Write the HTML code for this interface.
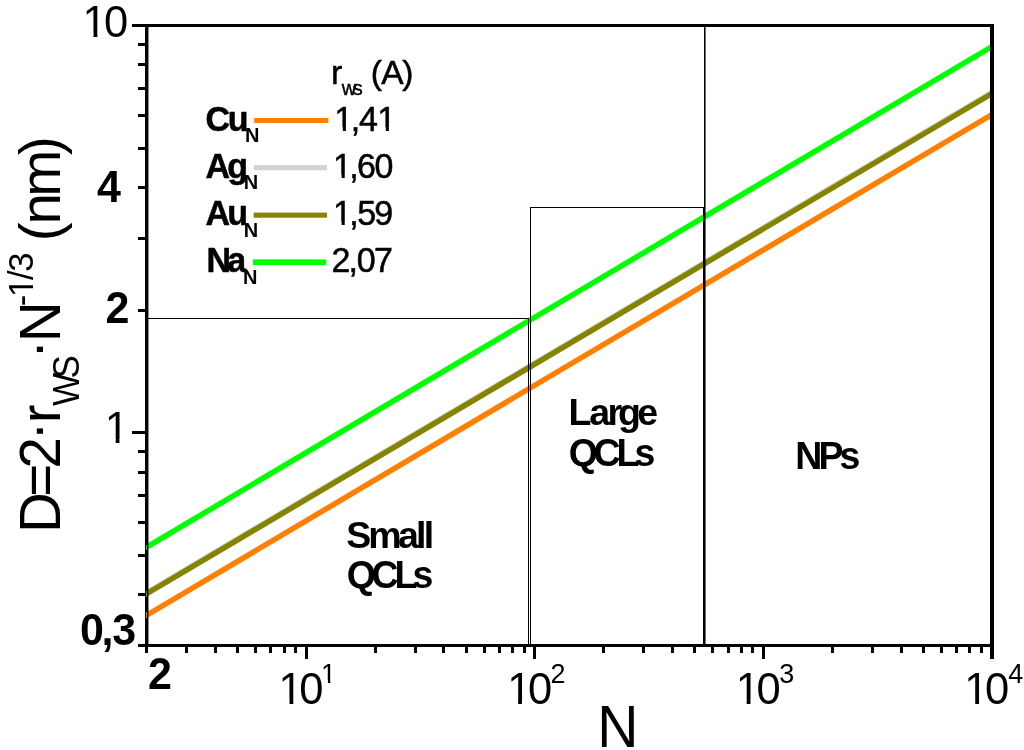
<!DOCTYPE html>
<html lang="en"><head><meta charset="utf-8"><title>chart</title>
<style>html,body{margin:0;padding:0;background:#fff;}body{width:1024px;height:750px;overflow:hidden;}svg{display:block;will-change:transform;}text{font-family:"Liberation Sans",sans-serif;fill:#000;}</style></head><body>
<svg width="1024" height="750" viewBox="0 0 1024 750">
<rect x="0" y="0" width="1024" height="750" fill="#fff"/>
<defs><clipPath id="one"><rect x="-5" y="-100" width="70" height="90.5"/><rect x="25.15" y="-10" width="8.84" height="10.5"/></clipPath></defs>
<clipPath id="c"><rect x="146" y="20" width="844.5" height="630"/></clipPath>
<g clip-path="url(#c)" fill="none" stroke-width="5.5">
<line x1="140" y1="619.14" x2="1000" y2="109.77" stroke="#ff8000"/>
<line x1="140" y1="596.58" x2="1000" y2="87.72" stroke="#d3d3d3"/>
<line x1="140" y1="597.69" x2="1000" y2="88.83" stroke="#848400"/>
<line x1="140" y1="551.05" x2="1000" y2="41.78" stroke="#00ff00"/>
</g>
<g fill="#000" shape-rendering="crispEdges">
<rect x="148" y="318" width="381" height="1"/><rect x="528" y="318" width="1" height="327"/>
<rect x="530" y="207" width="1" height="438"/><rect x="530" y="207" width="174" height="1"/><rect x="703" y="207" width="1" height="438"/>
<rect x="704" y="26" width="1.55" height="619" shape-rendering="auto"/>
</g>
<g fill="#000" shape-rendering="crispEdges">
<rect x="145" y="24" width="848.8" height="3"/>
<rect x="145" y="644" width="848.8" height="3"/>
<rect x="145" y="24" width="3.45" height="623" shape-rendering="auto"/>
<rect x="990.3" y="24" width="3.5" height="635"/>
<rect x="132" y="24.0" width="14.0" height="3"/>
<rect x="138" y="43.0" width="8.0" height="3"/>
<rect x="138" y="63.0" width="8.0" height="3"/>
<rect x="138" y="87.0" width="8.0" height="3"/>
<rect x="138" y="114.0" width="8.0" height="3"/>
<rect x="138" y="147.0" width="8.0" height="3"/>
<rect x="138" y="186.0" width="8.0" height="3"/>
<rect x="138" y="237.0" width="8.0" height="3"/>
<rect x="138" y="309.0" width="8.0" height="3"/>
<rect x="132" y="431.0" width="14.0" height="3"/>
<rect x="138" y="450.0" width="8.0" height="3"/>
<rect x="138" y="471.0" width="8.0" height="3"/>
<rect x="138" y="494.0" width="8.0" height="3"/>
<rect x="138" y="521.0" width="8.0" height="3"/>
<rect x="138" y="554.0" width="8.0" height="3"/>
<rect x="138" y="593.0" width="8.0" height="3"/>
<rect x="138" y="644.0" width="8.0" height="3"/>
<rect x="145.0" y="645" width="3" height="7.7"/>
<rect x="185.0" y="645" width="3" height="7.7"/>
<rect x="214.0" y="645" width="3" height="7.7"/>
<rect x="236.0" y="645" width="3" height="7.7"/>
<rect x="254.0" y="645" width="3" height="7.7"/>
<rect x="269.0" y="645" width="3" height="7.7"/>
<rect x="283.0" y="645" width="3" height="7.7"/>
<rect x="294.0" y="645" width="3" height="7.7"/>
<rect x="305.0" y="645" width="3" height="14.0"/>
<rect x="374.0" y="645" width="3" height="7.7"/>
<rect x="414.0" y="645" width="3" height="7.7"/>
<rect x="442.0" y="645" width="3" height="7.7"/>
<rect x="465.0" y="645" width="3" height="7.7"/>
<rect x="483.0" y="645" width="3" height="7.7"/>
<rect x="498.0" y="645" width="3" height="7.7"/>
<rect x="511.0" y="645" width="3" height="7.7"/>
<rect x="523.0" y="645" width="3" height="7.7"/>
<rect x="533.0" y="645" width="3" height="14.0"/>
<rect x="602.0" y="645" width="3" height="7.7"/>
<rect x="642.0" y="645" width="3" height="7.7"/>
<rect x="671.0" y="645" width="3" height="7.7"/>
<rect x="693.0" y="645" width="3" height="7.7"/>
<rect x="711.0" y="645" width="3" height="7.7"/>
<rect x="727.0" y="645" width="3" height="7.7"/>
<rect x="740.0" y="645" width="3" height="7.7"/>
<rect x="751.0" y="645" width="3" height="7.7"/>
<rect x="762.0" y="645" width="3" height="14.0"/>
<rect x="831.0" y="645" width="3" height="7.7"/>
<rect x="871.0" y="645" width="3" height="7.7"/>
<rect x="900.0" y="645" width="3" height="7.7"/>
<rect x="922.0" y="645" width="3" height="7.7"/>
<rect x="940.0" y="645" width="3" height="7.7"/>
<rect x="955.0" y="645" width="3" height="7.7"/>
<rect x="968.0" y="645" width="3" height="7.7"/>
<rect x="980.0" y="645" width="3" height="7.7"/>
</g>
<g shape-rendering="crispEdges" opacity="0.85"><rect x="146" y="544.5" width="1.1" height="5.5" fill="#00ff00"/><rect x="146" y="590.5" width="1.1" height="6.5" fill="#a0a000"/><rect x="146" y="612.2" width="1.1" height="6" fill="#ff9a20"/></g>
<text transform="translate(82.59,37.00) scale(0.4350,0.4524)" font-size="100" clip-path="url(#one)" x="0" y="0">1</text><text transform="translate(0,37.00) scale(1,1.040)" font-size="43.50" x="104.10" y="0">0</text>
<text transform="translate(0,202.20) scale(1,1.040)" font-size="43.00" font-weight="bold" x="96.95" y="0">4</text>
<text transform="translate(0,323.00) scale(1,1.040)" font-size="43.00" font-weight="bold" x="105.41" y="0">2</text>
<text transform="translate(104.69,443.20) scale(0.4350,0.4524)" font-size="100" clip-path="url(#one)" x="0" y="0">1</text>
<text transform="translate(0,644.80) scale(1,1.040)" font-size="43.00" font-weight="bold" x="80.10 101.48 112.31" y="0">0,3</text>
<text transform="translate(0,689.00) scale(1,1.040)" font-size="43.00" font-weight="bold" x="148.11" y="0">2</text>
<text transform="translate(278.56,704.30) scale(0.4350,0.4524)" font-size="100" clip-path="url(#one)" x="0" y="0">1</text><text transform="translate(0,704.30) scale(1,1.040)" font-size="43.50" x="299.37" y="0">0</text>
<text transform="translate(321.11,682.80) scale(0.2700,0.2808)" font-size="100" clip-path="url(#one)" x="0" y="0">1</text>
<text transform="translate(507.13,704.30) scale(0.4350,0.4524)" font-size="100" clip-path="url(#one)" x="0" y="0">1</text><text transform="translate(0,704.30) scale(1,1.040)" font-size="43.50" x="527.95" y="0">0</text>
<text transform="translate(0,682.80) scale(1,1.040)" font-size="27.00" x="550.39" y="0">2</text>
<text transform="translate(735.71,704.30) scale(0.4350,0.4524)" font-size="100" clip-path="url(#one)" x="0" y="0">1</text><text transform="translate(0,704.30) scale(1,1.040)" font-size="43.50" x="756.52" y="0">0</text>
<text transform="translate(0,682.80) scale(1,1.040)" font-size="27.00" x="779.29" y="0">3</text>
<text transform="translate(964.29,704.30) scale(0.4350,0.4524)" font-size="100" clip-path="url(#one)" x="0" y="0">1</text><text transform="translate(0,704.30) scale(1,1.040)" font-size="43.50" x="985.10" y="0">0</text>
<text transform="translate(0,682.80) scale(1,1.040)" font-size="27.00" x="1008.28" y="0">4</text>
<text transform="translate(0,747.00) scale(1,1.030)" font-size="57.00" x="597.22" y="0">N</text>
<g transform="translate(60.2,0) rotate(-90)">
<text transform="translate(0,0.00) scale(1,1.030)" font-size="56.50" x="-533.13 -496.76 -468.44" y="0">D=2</text>
<text transform="translate(0,0.00) scale(1,1.030)" font-size="56.50" x="-423.35" y="0">r</text>
<text transform="translate(0,0.00) scale(1,1.030)" font-size="56.50" x="-342.23" y="0">N</text>
<text transform="translate(0,0.00) scale(1,1.000)" font-size="56.50" x="-241.30 -224.45 -196.75 -154.93" y="0">(nm)</text>
</g>
<g transform="translate(56.4,0) rotate(-90)">
<text transform="translate(0,0.00) scale(1,1.000)" font-size="56.50" x="-440.40" y="0">·</text>
<text transform="translate(0,0.00) scale(1,1.000)" font-size="56.50" x="-358.80" y="0">·</text>
</g>
<g transform="translate(79.3,0) rotate(-90)">
<text transform="translate(0,0.00) scale(1,1.030)" font-size="35.00" x="-405.95 -378.59" y="0">WS</text>
</g>
<g transform="translate(33.3,0) rotate(-90)">
<text transform="translate(0,0.00) scale(1,1.000)" font-size="34.50" x="-306.33" y="0">-</text><text transform="translate(-297.03,0.00) scale(0.3450,0.3450)" font-size="100" clip-path="url(#one)" x="0" y="0">1</text><text transform="translate(0,0.00) scale(1,1.000)" font-size="34.50" x="-280.00 -271.71" y="0">/3</text>
</g>
<text transform="translate(0,83.50) scale(1,1.000)" font-size="34.00" stroke="#000" stroke-width="0.50" x="331.04" y="0">r</text>
<text transform="translate(0,94.80) scale(1,1.000)" font-size="20.00" stroke="#000" stroke-width="0.40" x="341.63 352.74" y="0">ws</text>
<text transform="translate(0,83.50) scale(1,1.000)" font-size="33.50" stroke="#000" stroke-width="0.50" x="370.82 381.13 402.20" y="0">(A)</text>
<text transform="translate(0,130.50) scale(1,1.020)" font-size="34.00" font-weight="bold" stroke="#000" stroke-width="0.50" x="205.61 227.69" y="0">Cu</text>
<text transform="translate(0,142.30) scale(1,1.030)" font-size="20.00" font-weight="bold" x="245.06" y="0">N</text>
<rect x="254.2" y="118.0" width="74.2" height="5.0" fill="#ff8000"/>
<text transform="translate(334.31,130.70) scale(0.3400,0.3502)" font-size="100" clip-path="url(#one)" stroke="#000" stroke-width="1.47" x="0" y="0">1</text><text transform="translate(0,130.70) scale(1,1.030)" font-size="34.00" stroke="#000" stroke-width="0.50" x="350.75 358.92" y="0">,4</text><text transform="translate(377.31,130.70) scale(0.3400,0.3502)" font-size="100" clip-path="url(#one)" stroke="#000" stroke-width="1.47" x="0" y="0">1</text>
<text transform="translate(0,177.67) scale(1,1.020)" font-size="34.00" font-weight="bold" stroke="#000" stroke-width="0.50" x="205.55 227.31" y="0">Ag</text>
<text transform="translate(0,189.47) scale(1,1.030)" font-size="20.00" font-weight="bold" x="243.76" y="0">N</text>
<rect x="253.7" y="165.1" width="73.3" height="5.2" fill="#d3d3d3"/>
<text transform="translate(333.11,177.87) scale(0.3400,0.3502)" font-size="100" clip-path="url(#one)" stroke="#000" stroke-width="1.47" x="0" y="0">1</text><text transform="translate(0,177.87) scale(1,1.030)" font-size="34.00" stroke="#000" stroke-width="0.50" x="349.25 356.97 374.47" y="0">,60</text>
<text transform="translate(0,224.84) scale(1,1.020)" font-size="34.00" font-weight="bold" stroke="#000" stroke-width="0.50" x="205.55 227.19" y="0">Au</text>
<text transform="translate(0,236.64) scale(1,1.030)" font-size="20.00" font-weight="bold" x="243.76" y="0">N</text>
<rect x="253.7" y="212.6" width="73.3" height="5.1" fill="#848400"/>
<text transform="translate(333.11,225.04) scale(0.3400,0.3502)" font-size="100" clip-path="url(#one)" stroke="#000" stroke-width="1.47" x="0" y="0">1</text><text transform="translate(0,225.04) scale(1,1.030)" font-size="34.00" stroke="#000" stroke-width="0.50" x="349.25 357.34 374.21" y="0">,59</text>
<text transform="translate(0,272.01) scale(1,1.020)" font-size="34.00" font-weight="bold" stroke="#000" stroke-width="0.50" x="206.53 227.30" y="0">Na</text>
<text transform="translate(0,283.81) scale(1,1.030)" font-size="20.00" font-weight="bold" x="243.06" y="0">N</text>
<rect x="253.0" y="259.4" width="73.2" height="5.6" fill="#00ff00"/>
<text transform="translate(0,272.21) scale(1,1.030)" font-size="34.00" stroke="#000" stroke-width="0.50" x="331.39 348.55 356.67 373.96" y="0">2,07</text>
<text transform="translate(0,548.40) scale(1,1.000)" font-size="37.50" font-weight="bold" x="346.32 368.13 398.10 415.98 423.68" y="0">Small</text>
<text transform="translate(0,588.00) scale(1,1.030)" font-size="37.50" font-weight="bold" x="346.66 371.46 394.49 412.48" y="0">QCLs</text>
<text transform="translate(0,424.60) scale(1,1.000)" font-size="37.50" font-weight="bold" x="568.49 589.20 607.53 618.06 637.34" y="0">Large</text>
<text transform="translate(0,466.00) scale(1,1.030)" font-size="37.50" font-weight="bold" x="568.66 593.46 616.49 634.48" y="0">QCLs</text>
<text transform="translate(0,468.80) scale(1,1.030)" font-size="37.50" font-weight="bold" x="795.29 818.39 839.48" y="0">NPs</text>
</svg></body></html>
